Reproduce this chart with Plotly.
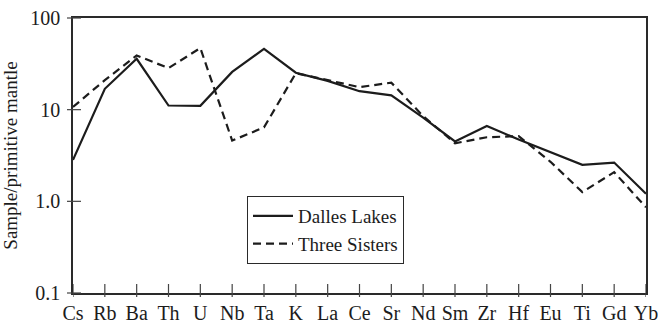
import math
import plotly.graph_objects as go

# Trace elements normalised to primitive mantle
elements = ["Cs", "Rb", "Ba", "Th", "U", "Nb", "Ta", "K", "La", "Ce",
            "Sr", "Nd", "Sm", "Zr", "Hf", "Eu", "Ti", "Gd", "Yb"]
dalles_lakes = [2.83, 16.9, 35.9, 11.1, 11.0, 25.8, 46.0, 25.3, 20.6, 15.9,
                14.3, 8.2, 4.5, 6.65, 4.72, 3.45, 2.5, 2.65, 1.21]
three_sisters = [10.7, 21.0, 39.0, 28.4, 47.0, 4.6, 6.4, 25.0, 21.0, 17.6,
                 19.7, 8.5, 4.3, 5.0, 5.15, 2.7, 1.26, 2.08, 0.86]
y_tick_vals = [0.1, 1, 10, 100]
y_tick_text = ["0.1", "1.0", "10", "100"]

FONT = "Liberation Serif"
INK = "#1c1c1c"
AXIS = "#2a2a2a"
TICK = "#444444"
Y_MIN, Y_MAX = -1, 2  # log10 range

xpos = list(range(len(elements)))

fig = go.Figure()
fig.add_trace(go.Scatter(
    x=xpos, y=dalles_lakes, mode="lines", name="Dalles Lakes",
    line=dict(color=INK, width=2.2),
))
fig.add_trace(go.Scatter(
    x=xpos, y=three_sisters, mode="lines", name="Three Sisters",
    line=dict(color=INK, width=2.2, dash="8px,5px"),
))

# Tick marks that cross the axis lines (drawn as pixel-sized shapes)
shapes = []
for i in xpos:
    shapes.append(dict(
        type="line", xref="x", yref="paper", ysizemode="pixel", yanchor=0,
        x0=i, x1=i, y0=-4, y1=9, line=dict(color=TICK, width=1.2),
    ))
for v in y_tick_vals:
    py = (math.log10(v) - Y_MIN) / (Y_MAX - Y_MIN)
    shapes.append(dict(
        type="line", xref="paper", yref="paper", xsizemode="pixel", xanchor=0,
        x0=-6, x1=8, y0=py, y1=py, line=dict(color=TICK, width=1.2),
    ))

fig.update_layout(
    width=658, height=323,
    margin=dict(l=73, r=12, t=18, b=30, autoexpand=False),
    paper_bgcolor="white", plot_bgcolor="white",
    font=dict(family=FONT, color=INK, size=20),
    showlegend=True,
    shapes=shapes,
    legend=dict(
        x=(247 - 73) / 573, y=(293 - 196) / 275,
        xanchor="left", yanchor="top",
        bgcolor="white", bordercolor=AXIS, borderwidth=1,
        font=dict(family=FONT, size=19, color=INK),
        tracegroupgap=0, itemwidth=40,
    ),
    xaxis=dict(
        range=[0, len(elements) - 1], tickvals=xpos, ticktext=elements,
        showgrid=False, zeroline=False, automargin=False,
        showline=True, linecolor=AXIS, linewidth=1.6, mirror=True,
        ticks="outside", ticklen=1, tickcolor="rgba(0,0,0,0)",
        ticklabeloverflow="allow",
        tickfont=dict(family=FONT, size=20, color=INK),
    ),
    yaxis=dict(
        type="log", range=[Y_MIN, Y_MAX],
        tickvals=y_tick_vals, ticktext=y_tick_text,
        showgrid=False, zeroline=False, automargin=False,
        showline=True, linecolor=AXIS, linewidth=1.6, mirror=True,
        ticks="outside", ticklen=7, tickcolor="rgba(0,0,0,0)",
        tickfont=dict(family=FONT, size=20, color=INK),
        title=dict(text="Sample/primitive mantle",
                   font=dict(family=FONT, size=19, color=INK), standoff=9),
    ),
)

fig.write_html("out.html")
